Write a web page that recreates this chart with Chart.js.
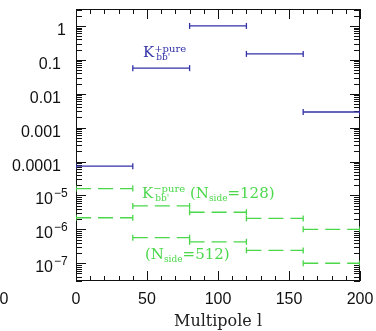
<!DOCTYPE html>
<html>
<head>
<meta charset="utf-8">
<script src="https://cdn.jsdelivr.net/npm/chart.js@4/dist/chart.umd.min.js"></script>
<style>
  html, body { margin: 0; padding: 0; background: #fff; }
  canvas { display: block; }
</style>
</head>
<body>
<canvas id="c" width="376" height="331"></canvas>
<script>
// ---- data ----
const binEdges = [0, 40, 80, 120, 160, 200];
const bluePureVals = [7.3e-5, 0.057, 1.0, 0.15, 0.0029];      // K+pure
const green128Vals = [1.6e-5, 4.9e-6, 3.2e-6, 2.1e-6, 1.0e-6]; // K-pure, Nside=128
const green512Vals = [2.2e-6, 5.7e-7, 4.3e-7, 2.4e-7, 1.0e-7]; // K-pure, Nside=512
const xTickValues = [0, 50, 100, 150, 200];
const xTickLabels = ['0', '50', '100', '150', '200'];
const yTickValues = [1, 0.1, 0.01, 0.001, 0.0001, 1e-5, 1e-6, 1e-7];
const yTickLabels = ['1', '0.1', '0.01', '0.001', '0.0001', '10^-5', '10^-6', '10^-7'];

const BLUE = '#3232a8';
const GREEN = '#4ad84a';

function steps(vals) {
  const pts = [];
  vals.forEach((v, i) => {
    pts.push({ x: binEdges[i], y: v });
    pts.push({ x: binEdges[i + 1], y: v });
    pts.push({ x: binEdges[i + 1], y: null });
  });
  return pts;
}

function ds(vals, color, dash) {
  return {
    data: steps(vals),
    showLine: true,
    spanGaps: false,
    borderColor: color,
    borderWidth: 1.3,
    borderDash: dash,
    pointStyle: 'line',
    rotation: 90,
    pointRadius: 3,
    pointBorderColor: color,
    pointBackgroundColor: color,
    pointBorderWidth: 1.3,
    pointHoverRadius: 3
  };
}

function rich(ctx, x, y, parts, color) {
  ctx.fillStyle = color;
  ctx.textBaseline = 'alphabetic';
  ctx.textAlign = 'left';
  let cx = x;
  for (const p of parts) {
    if (p.stack) {
      let w = 0;
      for (const s of p.stack) {
        ctx.font = s.size + 'px "DejaVu Serif"';
        ctx.fillText(s.t, cx + (s.dx || 0), y + s.dy);
        w = Math.max(w, ctx.measureText(s.t).width + (s.dx || 0));
      }
      cx += w;
    } else {
      ctx.font = p.size + 'px "DejaVu Serif"';
      ctx.fillText(p.t, cx, y + (p.dy || 0));
      cx += ctx.measureText(p.t).width;
    }
  }
}

const framePlugin = {
  id: 'frame',
  beforeDatasetsDraw(chart) {
    const { ctx, chartArea: a, scales } = chart;
    const xs = scales.x, ys = scales.y;
    ctx.save();
    ctx.strokeStyle = '#111';
    ctx.lineWidth = 1;
    ctx.strokeRect(a.left + 0.5, a.top + 0.5, a.right - a.left - 1, a.bottom - a.top - 1);
    ctx.beginPath();
    for (let v = 0; v <= 200; v += 10) {
      const px = Math.round(xs.getPixelForValue(v)) + 0.5;
      const len = v % 50 === 0 ? 10 : 5;
      ctx.moveTo(px, a.bottom); ctx.lineTo(px, a.bottom - len);
      ctx.moveTo(px, a.top); ctx.lineTo(px, a.top + len);
    }
    for (let d = -8; d <= 0; d++) {
      for (let m = 1; m <= 9; m++) {
        const v = m * Math.pow(10, d);
        if (v < ys.min || v > ys.max) continue;
        const py = Math.round(ys.getPixelForValue(v)) + 0.5;
        const len = m === 1 ? 10 : 6;
        ctx.moveTo(a.left, py); ctx.lineTo(a.left + len, py);
        ctx.moveTo(a.right, py); ctx.lineTo(a.right - len, py);
      }
    }
    ctx.stroke();
    ctx.restore();
  },
  afterDraw(chart) {
    const { ctx, chartArea: a, scales } = chart;
    const xs = scales.x, ys = scales.y;
    ctx.save();
    ctx.fillStyle = '#111';
    // x tick labels
    ctx.font = '16px "Liberation Sans"';
    ctx.textAlign = 'center';
    ctx.textBaseline = 'middle';
    xTickValues.forEach((v, i) => {
      ctx.fillText(xTickLabels[i], xs.getPixelForValue(v), a.bottom + 19);
    });
    // stray label from neighbouring panel
    ctx.fillText('0', 4, a.bottom + 19);
    // y tick labels
    ctx.textBaseline = 'alphabetic';
    yTickValues.forEach((v, i) => {
      const py = ys.getPixelForValue(v);
      const lab = yTickLabels[i];
      if (lab.indexOf('^') >= 0) {
        const [base, exp] = lab.split('^');
        ctx.font = '16px "Liberation Sans"';
        ctx.textAlign = 'right';
        ctx.fillText(base, 53, py + 9);
        ctx.font = '12px "Liberation Sans"';
        ctx.textAlign = 'left';
        ctx.fillText(exp.replace('-', '\u2212'), 54, py + 2);
      } else {
        ctx.font = '16px "Liberation Sans"';
        ctx.textAlign = 'right';
        ctx.fillText(lab, lab === '1' ? 66 : 61, py + 9);
      }
    });

    // annotations
    rich(ctx, xs.getPixelForValue(47.2), ys.getPixelForValue(0.122), [
      { t: 'K', size: 15 },
      { stack: [{ t: '+pure', size: 10, dy: -5 }, { t: "bb'", size: 9, dy: 3, dx: 2 }] }
    ], BLUE);
    rich(ctx, xs.getPixelForValue(46.5), ys.getPixelForValue(8.7e-6), [
      { t: 'K', size: 15 },
      { stack: [{ t: '\u2212pure', size: 10, dy: -6 }, { t: "bb'", size: 9, dy: 3, dx: 2 }] },
      { t: ' (N', size: 15 },
      { t: 'side', size: 9, dy: 3 },
      { t: '=128)', size: 15 }
    ], GREEN);
    rich(ctx, xs.getPixelForValue(48.6), ys.getPixelForValue(1.32e-7), [
      { t: '(N', size: 15 },
      { t: 'side', size: 9, dy: 3 },
      { t: '=512)', size: 15 }
    ], GREEN);
    ctx.restore();
  }
};

new Chart(document.getElementById('c'), {
  type: 'scatter',
  data: {
    datasets: [
      ds(bluePureVals, BLUE, []),
      ds(green128Vals, GREEN, [15, 7]),
      ds(green512Vals, GREEN, [15, 7])
    ]
  },
  options: {
    responsive: false,
    animation: false,
    events: [],
    layout: { padding: { top: 9, right: 16, left: 0, bottom: 0 } },
    plugins: { legend: { display: false }, tooltip: { enabled: false } },
    scales: {
      x: {
        type: 'linear',
        min: 0, max: 200,
        ticks: { display: false },
        grid: { display: false, drawTicks: false },
        border: { display: false },
        title: {
          display: true,
          text: 'Multipole l',
          font: { family: 'DejaVu Serif', size: 16 },
          color: '#222',
          padding: { top: 0, bottom: 0 }
        },
        afterFit: s => { s.height = 50; }
      },
      y: {
        type: 'logarithmic',
        min: Math.pow(10, -7.5),
        max: Math.pow(10, 0.5),
        ticks: { display: false },
        grid: { display: false, drawTicks: false },
        border: { display: false },
        afterFit: s => { s.width = 76; }
      }
    }
  },
  plugins: [framePlugin]
});
</script>
</body>
</html>
